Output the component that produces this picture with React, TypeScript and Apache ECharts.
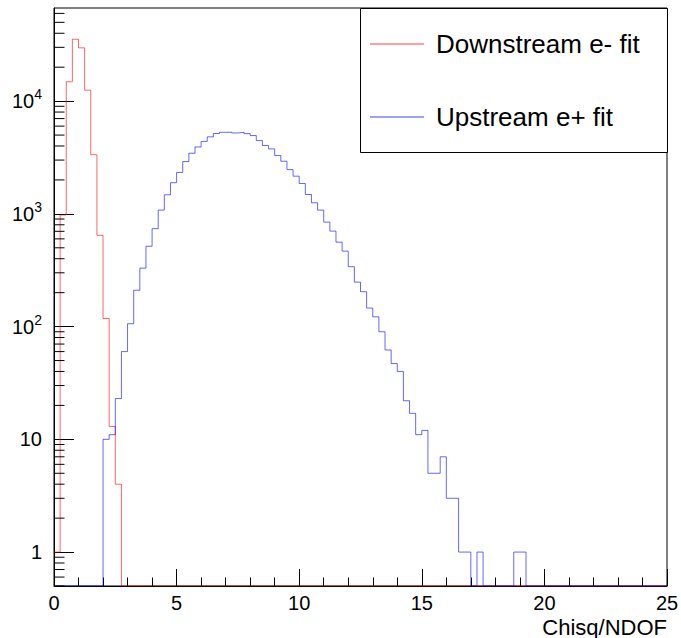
import React, { useEffect, useRef } from 'react';
import * as echarts from 'echarts';

// ---- data ----
const binWidth = 0.25;
const xMin = 0;
const xMax = 25;
const xInterval = 5;
const yMin = 0.5;
const yMax = 67000;
const xTitle = 'Chisq/NDOF';
const seriesNames = ['Downstream e- fit', 'Upstream e+ fit'];

// Downstream e- fit: bins starting at x = 0
const downstreamStart = 0;
const downstreamCounts = [1, 977, 14860, 35400, 29700, 12500, 3345, 645, 118, 13, 4];

// Upstream e+ fit: bins starting at x = 2.0
const upstreamStart = 2.0;
const upstreamCounts = [
  10, 11, 23, 60, 106, 210, 330, 516, 739, 1080, 1475, 1890, 2330, 2910, 3450, 3920,
  4390, 4820, 5160, 5290, 5300, 5220, 5290, 5150, 4950, 4470, 4040, 3770, 3290, 2930,
  2470, 2160, 1860, 1485, 1254, 1079, 845, 703, 561, 467, 340, 248, 204, 146, 122, 90,
  62, 47, 40, 22, 17, 11, 12, 5, 5, 7, 3, 3, 1, 1, 0, 1, 0, 0, 0, 0, 0, 1, 1,
];

const FONT = '"Liberation Sans", Arial, Helvetica, sans-serif';
const RED = '#ff0000';
const BLUE = '#0000ff';

function histogramPoints(start: number, counts: number[]) {
  const nBins = Math.round((xMax - xMin) / binWidth);
  const pts: number[][] = [];
  for (let i = 0; i < nBins; i++) {
    const lo = xMin + i * binWidth;
    const idx = Math.round((lo - start) / binWidth);
    const c = idx >= 0 && idx < counts.length ? counts[idx] : 0;
    const v = c > 0 ? c : yMin; // empty bins sit on the axis floor (log scale)
    pts.push([lo, v], [lo + binWidth, v]);
  }
  return pts;
}

function minorLogTicks() {
  const out: number[][] = [];
  const lo = Math.floor(Math.log10(yMin));
  const hi = Math.ceil(Math.log10(yMax));
  for (let e = lo; e <= hi; e++) {
    for (let m = 2; m <= 9; m++) {
      const v = m * Math.pow(10, e);
      if (v >= yMin && v <= yMax) out.push([xMin, v]);
    }
  }
  return out;
}

export default function App() {
  const ref = useRef<HTMLDivElement>(null);

  useEffect(() => {
    if (!ref.current) return;
    const chart = echarts.init(ref.current, undefined, { renderer: 'svg' });

    const option: any = {
      animation: false,
      backgroundColor: '#fff',
      textStyle: { fontFamily: FONT },
      grid: {
        left: 54,
        right: 14,
        top: 8,
        bottom: 52,
        containLabel: false,
        outerBoundsMode: 'none',
        show: true,
        borderColor: '#000',
        borderWidth: 1,
        backgroundColor: 'transparent',
      },
      legend: {
        data: [
          { name: seriesNames[0], icon: 'rect', itemStyle: { color: RED, opacity: 0.75 } },
          { name: seriesNames[1], icon: 'rect', itemStyle: { color: BLUE, opacity: 0.75 } },
        ],
        orient: 'vertical',
        left: 370,
        top: 29,
        itemWidth: 54,
        itemHeight: 1,
        itemGap: 43,
        padding: 0,
        selectedMode: false,
        textStyle: {
          fontSize: 26,
          lineHeight: 30,
          color: '#000',
          fontFamily: FONT,
          padding: [0, 0, 0, 7],
        },
        z: 10,
      },
      graphic: [
        {
          type: 'rect',
          z: 5,
          shape: { x: 360.5, y: 8.5, width: 307, height: 144 },
          style: { fill: '#fff', stroke: '#000', lineWidth: 1 },
        },
        {
          type: 'text',
          z: 5,
          style: {
            text: xTitle,
            x: 667,
            y: 627,
            align: 'right',
            verticalAlign: 'middle',
            textAlign: 'right',
            textVerticalAlign: 'middle',
            fontSize: 22,
            fontFamily: FONT,
            fill: '#000',
          },
        },
      ],
      xAxis: {
        type: 'value',
        min: xMin,
        max: xMax,
        interval: xInterval,
        axisLine: { show: true, lineStyle: { color: '#000', width: 1 } },
        axisTick: { show: true, inside: true, length: 17, lineStyle: { color: '#000' } },
        minorTick: { show: true, splitNumber: 5, length: 8.5, lineStyle: { color: '#000' } },
        splitLine: { show: false },
        axisLabel: { fontSize: 20, color: '#000', margin: 7, fontFamily: FONT },
      },
      yAxis: {
        type: 'log',
        logBase: 10,
        min: yMin,
        max: yMax,
        axisLine: { show: true, lineStyle: { color: '#000', width: 1 } },
        axisTick: { show: true, inside: true, length: 20, lineStyle: { color: '#000' } },
        splitLine: { show: false },
        axisLabel: {
          margin: 12,
          color: '#000',
          fontFamily: FONT,
          fontSize: 20,
          showMinLabel: false,
          showMaxLabel: false,
          formatter: (v: number) => {
            const l = Math.log10(v);
            const e = Math.round(l);
            if (Math.abs(l - e) > 1e-6) return '';
            if (e === 0) return '1';
            if (e === 1) return '10';
            return `{b|10}{s|${e}}`;
          },
          rich: {
            b: { fontSize: 20, fontFamily: FONT, color: '#000', verticalAlign: 'bottom', lineHeight: 20 },
            s: {
              fontSize: 14,
              fontFamily: FONT,
              color: '#000',
              verticalAlign: 'bottom',
              lineHeight: 20,
              padding: [0, 0, 10, 0],
            },
          },
        },
      },
      series: [
        {
          name: seriesNames[0],
          type: 'line',
          data: histogramPoints(downstreamStart, downstreamCounts),
          symbol: 'none',
          color: RED,
          lineStyle: { color: RED, width: 1, opacity: 0.6 },
          z: 2,
        },
        {
          name: seriesNames[1],
          type: 'line',
          data: histogramPoints(upstreamStart, upstreamCounts),
          symbol: 'none',
          color: BLUE,
          lineStyle: { color: BLUE, width: 1, opacity: 0.6 },
          z: 3,
        },
        {
          name: 'yMinorTicks',
          type: 'custom',
          silent: true,
          data: minorLogTicks(),
          z: 4,
          renderItem: (_params: any, api: any) => {
            const p = api.coord([api.value(0), api.value(1)]);
            return {
              type: 'line',
              shape: { x1: p[0], y1: p[1], x2: p[0] + 10.5, y2: p[1] },
              style: { stroke: '#000', lineWidth: 1 },
            };
          },
        },
      ],
    };

    chart.setOption(option);
    return () => chart.dispose();
  }, []);

  return (
    <div
      ref={ref}
      style={{ position: 'absolute', left: 0, top: 0, width: 681, height: 638, background: '#fff' }}
    />
  );
}
